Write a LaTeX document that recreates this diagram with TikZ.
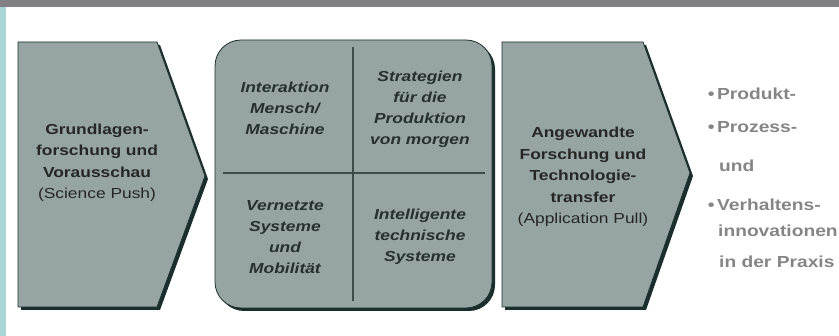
\documentclass[tikz,border=0pt]{standalone}
\usepackage{fontspec}
\setmainfont{Liberation Sans}[FakeStretch=1.2]
\usetikzlibrary{positioning}
\definecolor{boxfill}{HTML}{96A5A3}
\definecolor{boxedge}{HTML}{1A2E2D}
\definecolor{divline}{HTML}{3D4B4A}
\definecolor{topband}{HTML}{808085}
\definecolor{sidestrip}{HTML}{A9D5D4}
\definecolor{listgray}{HTML}{858585}
\definecolor{quadtext}{HTML}{263030}

\begin{document}
\begin{tikzpicture}[x=1pt, y=-1pt,
	panel/.style={fill=boxfill, draw=boxedge, line width=0.8pt},
	shade/.style={fill=boxedge},
	divider/.style={draw=divline, line width=1.2pt},
	label/.style={align=center, text=black!85, font=\fontsize{14.5}{21.5}\selectfont\bfseries},
	quad/.style={align=center, text=quadtext, font=\fontsize{14.5}{21}\selectfont\bfseries\itshape},
	item/.style={anchor=base west, inner sep=0pt, text=listgray, font=\fontsize{16}{20}\selectfont\bfseries}
	]
	
	\useasboundingbox (0,0) rectangle (839,336);
	\fill[topband] (0,0) rectangle (839,7);
	\fill[sidestrip] (0,7) rectangle (6,336);
	
	% science push
	\path[shade] (21,45) -- (160,45) -- (208,179) -- (160,310) -- (21,310) -- cycle;
	\path[panel] (18,42) -- (157,42) -- (205,176) -- (157,307) -- (18,307) -- cycle;
	
	% four fields
	\path[shade, rounded corners=26pt] (218,43) rectangle (495,311);
	\path[panel, rounded corners=26pt] (215,40) rectangle (492,308);
	\draw[divider] (353,47) -- (353,301);
	\draw[divider] (223,173) -- (485,173);
	
	% application pull
	\path[shade] (505,45) -- (646,45) -- (693,176) -- (646,310) -- (505,310) -- cycle;
	\path[panel] (502,42) -- (643,42) -- (690,173) -- (643,307) -- (502,307) -- cycle;
	
	\node[label] (Push) at (97,163) {Grundlagen-\\forschung und\\Vorausschau\\{\mdseries(Science Push)}};
	\node[label] (Pull) at (583,177) {Angewandte\\Forschung und\\Technologie-\\transfer\\{\mdseries(Application Pull)}};
	
	\node[quad] (Mensch) at (285,108) {Interaktion\\Mensch/\\Maschine};
	\node[quad] (Produktion) at (420,109) {Strategien\\für die\\Produktion\\von morgen};
	\node[quad] (Vernetzt) at (285,237) {Vernetzte\\Systeme\\und\\Mobilität};
	\node[quad] (Intelligent) at (420,237) {Intelligente\\technische\\Systeme};
	
	\node[item] (Produkt) at (717,100) {\llap{\textbullet\,}Produkt-};
	\node[item] (Prozess) at (717,133) {\llap{\textbullet\,}Prozess-};
	\node[item] (Und) at (719,172) {und};
	\node[item] (Verhalten) at (717,211) {\llap{\textbullet\,}Verhaltens-};
	\node[item] (Innovation) at (718,237) {innovationen};
	\node[item] (Praxis) at (719,268) {in der Praxis};
	
\end{tikzpicture}
\end{document}
